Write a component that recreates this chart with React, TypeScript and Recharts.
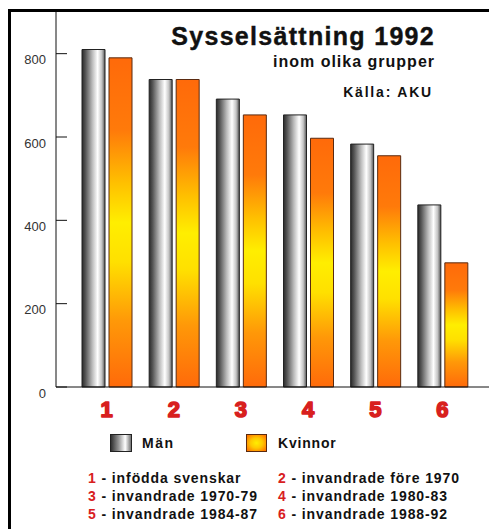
import React from 'react';
import { BarChart, Bar, XAxis, YAxis } from 'recharts';

const categories = ['1', '2', '3', '4', '5', '6'];
const manValues = [810, 738, 691, 653, 583, 437];
const kvinnorValues = [790, 738, 653, 597, 555, 298];
const yTicks = [0, 200, 400, 600, 800];
const seriesNames = ['Män', 'Kvinnor'];
const groupNames = [
  'infödda svenskar',
  'invandrade före 1970',
  'invandrade 1970-79',
  'invandrade 1980-83',
  'invandrade 1984-87',
  'invandrade 1988-92',
];
const titleText = 'Sysselsättning 1992';
const subtitleText = 'inom olika grupper';
const sourceText = 'Källa: AKU';

const data = categories.map((c, i) => ({ cat: c, man: manValues[i], kvinnor: kvinnorValues[i] }));

if (typeof document !== 'undefined') {
  document.body.style.margin = '0';
  document.body.style.overflow = 'hidden';
}

const FONT = '"Liberation Sans", Arial, sans-serif';
const RED = '#d8201e';

const YTick = (props: any) => {
  const { x, y, payload } = props;
  return (
    <g>
      <line x1={x} x2={x + 11} y1={y} y2={y} stroke="#111" strokeWidth={1} />
      <text x={x - 10} y={y + 10.5} textAnchor="end" fontFamily={FONT} fontSize={13} fill="#333">
        {payload.value}
      </text>
    </g>
  );
};

const XTick = (props: any) => {
  const { x, y, payload } = props;
  return (
    <text
      x={x}
      y={y + 30}
      textAnchor="middle"
      fontFamily={FONT}
      fontWeight={700}
      fontSize={22}
      fill={RED}
      stroke={RED}
      strokeWidth={1.6}
      strokeLinejoin="round"
    >
      {payload.value}
    </text>
  );
};

export default function App() {
  return (
    <div style={{ position: 'relative', width: 489, height: 529, background: '#fff', overflow: 'hidden' }}>
      <div
        style={{
          position: 'absolute',
          left: 8,
          top: 9,
          width: 520,
          height: 560,
          borderTop: '3px solid #000',
          borderLeft: '3px solid #000',
          boxSizing: 'border-box',
        }}
      />
      <div style={{ position: 'absolute', left: 0, top: 0 }}>
        <BarChart
          width={489}
          height={529}
          data={data}
          margin={{ top: 12, right: 0, bottom: 112, left: 0 }}
          barSize={23}
          barGap={4}
        >
          <defs>
            <linearGradient id="manGrad" x1="0" y1="0" x2="1" y2="0">
              <stop offset="0" stopColor="#2a2a2a" />
              <stop offset="0.15" stopColor="#555" />
              <stop offset="0.45" stopColor="#bbb" />
              <stop offset="0.68" stopColor="#fff" />
              <stop offset="0.86" stopColor="#c4c4c4" />
              <stop offset="1" stopColor="#555" />
            </linearGradient>
            <linearGradient id="kvGrad" x1="0" y1="0" x2="0" y2="1">
              <stop offset="0" stopColor="#ff6a0a" />
              <stop offset="0.22" stopColor="#ff7a0a" />
              <stop offset="0.38" stopColor="#ffc000" />
              <stop offset="0.5" stopColor="#ffee00" />
              <stop offset="0.62" stopColor="#ffe000" />
              <stop offset="0.8" stopColor="#ff9808" />
              <stop offset="1" stopColor="#ff6a0a" />
            </linearGradient>
          </defs>
          <XAxis
            dataKey="cat"
            height={30}
            tickLine={false}
            tickSize={0}
            tickMargin={0}
            axisLine={{ stroke: '#111', strokeWidth: 1 }}
            padding={{ left: 17, right: 13 }}
            tick={<XTick />}
            interval={0}
          />
          <YAxis
            width={56}
            domain={[0, 900]}
            ticks={yTicks}
            tickLine={false}
            tickSize={0}
            tickMargin={0}
            axisLine={{ stroke: '#111', strokeWidth: 1 }}
            tick={<YTick />}
            interval={0}
          />
          <Bar dataKey="man" name={seriesNames[0]} fill="url(#manGrad)" stroke="#222" strokeWidth={1} isAnimationActive={false} />
          <Bar dataKey="kvinnor" name={seriesNames[1]} fill="url(#kvGrad)" stroke="#5a2a10" strokeWidth={1} isAnimationActive={false} />
        </BarChart>
      </div>
      <svg width={489} height={529} style={{ position: 'absolute', left: 0, top: 0, pointerEvents: 'none' }}>
        <defs>
          <linearGradient id="manIcon" x1="0" y1="0" x2="1" y2="0">
            <stop offset="0" stopColor="#2a2a2a" />
            <stop offset="0.4" stopColor="#999" />
            <stop offset="0.7" stopColor="#fff" />
            <stop offset="1" stopColor="#666" />
          </linearGradient>
          <radialGradient id="kvIcon" cx="0.5" cy="0.5" r="0.6">
            <stop offset="0" stopColor="#ffee00" />
            <stop offset="0.5" stopColor="#ffc800" />
            <stop offset="1" stopColor="#ff7a00" />
          </radialGradient>
        </defs>
        <text x={435} y={45} textAnchor="end" fontFamily={FONT} fontWeight={700} fontSize={25} letterSpacing={1.3} fill="#111" stroke="#111" strokeWidth={0.4}>
          {titleText}
        </text>
        <text x={435} y={67} textAnchor="end" fontFamily={FONT} fontWeight={700} fontSize={16} letterSpacing={1} fill="#111">
          {subtitleText}
        </text>
        <text x={433} y={97} textAnchor="end" fontFamily={FONT} fontWeight={700} fontSize={14} letterSpacing={1.8} fill="#111">
          {sourceText}
        </text>
        <rect x={110.5} y={434.5} width={21} height={17} fill="url(#manIcon)" stroke="#222" />
        <text x={142} y={448} fontFamily={FONT} fontWeight={700} fontSize={14} letterSpacing={1.5} fill="#111">
          {seriesNames[0]}
        </text>
        <rect x={246.5} y={434.5} width={20} height={17} fill="url(#kvIcon)" stroke="#5a2a10" />
        <text x={278} y={448} fontFamily={FONT} fontWeight={700} fontSize={14} letterSpacing={0.8} fill="#111">
          {seriesNames[1]}
        </text>
        {groupNames.map((name, i) => {
          const col = i % 2;
          const row = Math.floor(i / 2);
          const x = col === 0 ? 88 : 278;
          const y = 483 + row * 18.2;
          return (
            <text key={name} x={x} y={y} fontFamily={FONT} fontWeight={700} fontSize={14} letterSpacing={0.9} fill="#111">
              <tspan fill={RED}>{categories[i]}</tspan>
              <tspan>{' - ' + name}</tspan>
            </text>
          );
        })}
      </svg>
    </div>
  );
}
